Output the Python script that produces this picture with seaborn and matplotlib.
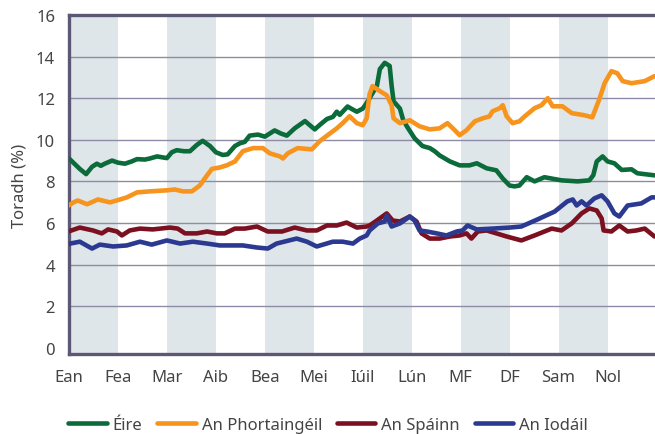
import pandas as pd
import matplotlib
matplotlib.use('Agg')
import matplotlib.pyplot as plt
import seaborn as sns

# ----------------------------------------------------------------------------
# data (x in months from start of January, y in %)
# ----------------------------------------------------------------------------
months = ['Ean', 'Fea', 'Mar', 'Aib', 'Bea', 'Mei', 'Iúil', 'Lún', 'MF', 'DF', 'Sam', 'Nol']
countries = ['Éire', 'An Phortaingéil', 'An Spáinn', 'An Iodáil']
colours = ['#0b6b3a', '#f7941d', '#7b1120', '#2b3990']

eire_x = [0.00, 0.22, 0.35, 0.47, 0.57, 0.65, 0.73, 0.88, 1.00, 1.14, 1.27, 1.39, 1.55, 1.65,
          1.80, 1.92, 2.00, 2.10, 2.20, 2.35, 2.47, 2.61, 2.73, 2.88, 3.00, 3.14, 3.24, 3.39,
          3.49, 3.59, 3.69, 3.86, 4.00, 4.10, 4.20, 4.33, 4.45, 4.61, 4.82, 4.92, 5.02, 5.14,
          5.27, 5.39, 5.47, 5.53, 5.63, 5.69, 5.80, 5.88, 6.00, 6.06, 6.14, 6.24, 6.29, 6.35,
          6.45, 6.55, 6.59, 6.63, 6.76, 6.82, 6.90, 7.06, 7.22, 7.37, 7.47, 7.57, 7.78, 7.98,
          8.18, 8.33, 8.53, 8.73, 8.86, 9.00, 9.10, 9.20, 9.35, 9.51, 9.71, 10.06, 10.39,
          10.63, 10.71, 10.78, 10.90, 11.00, 11.14, 11.29, 11.49, 11.61, 11.96]
eire_y = [9.10, 8.60, 8.35, 8.70, 8.85, 8.75, 8.85, 9.00, 8.90, 8.85, 8.95, 9.07, 9.05, 9.10,
          9.20, 9.15, 9.12, 9.40, 9.50, 9.45, 9.45, 9.75, 9.95, 9.70, 9.40, 9.27, 9.30, 9.70,
          9.83, 9.90, 10.20, 10.25, 10.15, 10.30, 10.45, 10.30, 10.20, 10.55, 10.90, 10.70,
          10.50, 10.75, 11.00, 11.10, 11.35, 11.20, 11.45, 11.60, 11.45, 11.35, 11.50, 11.70,
          12.00, 12.40, 12.60, 13.40, 13.70, 13.55, 12.60, 11.85, 11.50, 11.00, 10.65, 10.07,
          9.70, 9.60, 9.45, 9.25, 8.96, 8.77, 8.77, 8.87, 8.63, 8.53, 8.14, 7.80, 7.76, 7.80,
          8.20, 8.00, 8.20, 8.05, 8.00, 8.05, 8.30, 8.96, 9.20, 8.96, 8.87, 8.55, 8.58, 8.39,
          8.29]

port_x = [0.00, 0.10, 0.18, 0.37, 0.59, 0.84, 1.04, 1.18, 1.39, 1.65, 2.00, 2.16, 2.33,
          2.51, 2.67, 2.82, 2.92, 3.08, 3.22, 3.39, 3.55, 3.76, 3.96, 4.10, 4.31, 4.37, 4.47,
          4.67, 4.96, 5.12, 5.27, 5.47, 5.59, 5.73, 5.88, 6.00, 6.08, 6.14, 6.20, 6.35, 6.49,
          6.59, 6.63, 6.76, 6.96, 7.16, 7.37, 7.57, 7.73, 7.88, 7.98, 8.12, 8.29, 8.45, 8.59,
          8.65, 8.80, 8.86, 8.94, 9.06, 9.20, 9.31, 9.51, 9.65, 9.78, 9.88, 10.08, 10.27,
          10.53, 10.69, 10.84, 10.94, 11.08, 11.20, 11.31, 11.49, 11.76, 11.96]
port_y = [6.85, 7.00, 7.08, 6.90, 7.13, 6.99, 7.13, 7.23, 7.47, 7.52, 7.57, 7.61, 7.52,
          7.52, 7.80, 8.29, 8.60, 8.67, 8.77, 8.96, 9.45, 9.60, 9.60, 9.35, 9.20, 9.10, 9.35,
          9.60, 9.54, 9.93, 10.20, 10.55, 10.80, 11.13, 10.80, 10.70, 11.03, 12.20, 12.58,
          12.34, 12.14, 11.66, 11.03, 10.80, 10.94, 10.65, 10.50, 10.55, 10.80, 10.46, 10.22,
          10.46, 10.89, 11.03, 11.13, 11.37, 11.52, 11.66, 11.13, 10.80, 10.89, 11.13, 11.52,
          11.66, 12.00, 11.61, 11.61, 11.28, 11.18, 11.08, 12.00, 12.72, 13.30, 13.20, 12.82,
          12.72, 12.82, 13.06]

spain_x = [0.00, 0.22, 0.49, 0.67, 0.80, 0.98, 1.08, 1.24, 1.45, 1.71, 2.06, 2.22, 2.37,
           2.61, 2.82, 3.02, 3.18, 3.39, 3.59, 3.84, 4.06, 4.35, 4.61, 4.86, 5.06, 5.27, 5.47,
           5.67, 5.88, 6.08, 6.14, 6.29, 6.49, 6.61, 6.76, 6.96, 7.10, 7.20, 7.37, 7.57, 7.78,
           7.98, 8.12, 8.22, 8.35, 8.53, 8.73, 8.94, 9.24, 9.51, 9.86, 10.06, 10.27, 10.47,
           10.63, 10.78, 10.88, 10.92, 11.08, 11.24, 11.41, 11.59, 11.76, 11.96]
spain_y = [5.60, 5.78, 5.64, 5.50, 5.69, 5.59, 5.40, 5.64, 5.73, 5.69, 5.78, 5.73, 5.50,
           5.50, 5.59, 5.50, 5.50, 5.73, 5.73, 5.83, 5.59, 5.59, 5.78, 5.64, 5.64, 5.88, 5.88,
           6.02, 5.78, 5.83, 5.88, 6.12, 6.46, 6.12, 6.07, 6.31, 6.07, 5.50, 5.25, 5.25, 5.35,
           5.40, 5.50, 5.25, 5.59, 5.64, 5.50, 5.35, 5.16, 5.40, 5.73, 5.64, 5.98, 6.46, 6.70,
           6.60, 6.22, 5.64, 5.59, 5.88, 5.59, 5.64, 5.73, 5.35]

italy_x = [0.00, 0.22, 0.47, 0.63, 0.90, 1.18, 1.45, 1.69, 2.00, 2.27, 2.53, 2.82, 3.08,
           3.55, 3.84, 4.06, 4.24, 4.65, 4.86, 5.06, 5.39, 5.59, 5.80, 5.94, 6.08, 6.14, 6.31,
           6.45, 6.49, 6.59, 6.76, 6.96, 7.06, 7.16, 7.31, 7.51, 7.71, 7.92, 8.04, 8.14, 8.33,
           8.65, 9.00, 9.24, 9.57, 9.92, 10.18, 10.29, 10.37, 10.47, 10.57, 10.73, 10.88,
           11.00, 11.14, 11.24, 11.41, 11.69, 11.90, 11.96]
italy_y = [5.00, 5.10, 4.77, 4.96, 4.87, 4.92, 5.10, 4.96, 5.16, 5.01, 5.10, 5.01, 4.92,
           4.92, 4.82, 4.77, 5.01, 5.25, 5.10, 4.87, 5.10, 5.10, 5.01, 5.25, 5.40, 5.64, 5.98,
           6.07, 6.36, 5.83, 5.98, 6.31, 6.12, 5.64, 5.59, 5.50, 5.40, 5.59, 5.64, 5.88, 5.69,
           5.73, 5.78, 5.83, 6.17, 6.55, 7.04, 7.13, 6.84, 7.04, 6.84, 7.18, 7.33, 7.04, 6.46,
           6.31, 6.84, 6.94, 7.23, 7.23]


def build_frame():
    frames = []
    for name, xs, ys in zip(countries, [eire_x, port_x, spain_x, italy_x],
                            [eire_y, port_y, spain_y, italy_y]):
        frames.append(pd.DataFrame({'month': xs, 'yield': ys, 'country': name}))
    return pd.concat(frames, ignore_index=True)


df = build_frame()

sns.set_style('white')
plt.rcParams['font.family'] = ['Noto Sans', 'DejaVu Sans']

fig = plt.figure(figsize=(6.55, 4.35), dpi=100)
ax = fig.add_axes([69 / 655, 1 - 355 / 435, 1 - 69 / 655, (355 - 16) / 435])

# alternate month shading
for i in range(0, 12, 2):
    ax.axvspan(i, i + 1, color='#dfe6ea', lw=0, zorder=0)

for v in range(2, 16, 2):
    ax.axhline(v, color='#8e8ba6', lw=1.0, zorder=1)

sns.lineplot(data=df, x='month', y='yield', hue='country', palette=colours,
             hue_order=countries, estimator=None, sort=False, lw=3.3, ax=ax,
             zorder=3, solid_capstyle='round', solid_joinstyle='round')

ax.set_xlim(0, 11.97)
ax.set_ylim(-0.3, 16)
ax.set_xticks(range(12))
ax.set_xticklabels(months)
ax.set_yticks(range(0, 17, 2))
ax.tick_params(length=0, labelsize=12, colors='#444444')
ax.tick_params(axis='x', pad=11)
ax.tick_params(axis='y', pad=10)
ax.set_xlabel('')
ax.set_ylabel('Toradh (%)', fontsize=12, color='#444444', labelpad=6)

spine_col = '#5b5775'
for s in ['left', 'top', 'bottom']:
    ax.spines[s].set_color(spine_col)
    ax.spines[s].set_linewidth(2.4)
ax.spines['right'].set_visible(False)

handles, labels = ax.get_legend_handles_labels()
ax.legend(handles, labels, loc='center', bbox_to_anchor=(328 / 655, 1 - 426 / 435),
          bbox_transform=fig.transFigure, ncol=4, frameon=False, fontsize=12,
          handlelength=2.3, handletextpad=0.35, columnspacing=0.9,
          labelcolor='#444444')

plt.savefig('out.png', dpi=100)
